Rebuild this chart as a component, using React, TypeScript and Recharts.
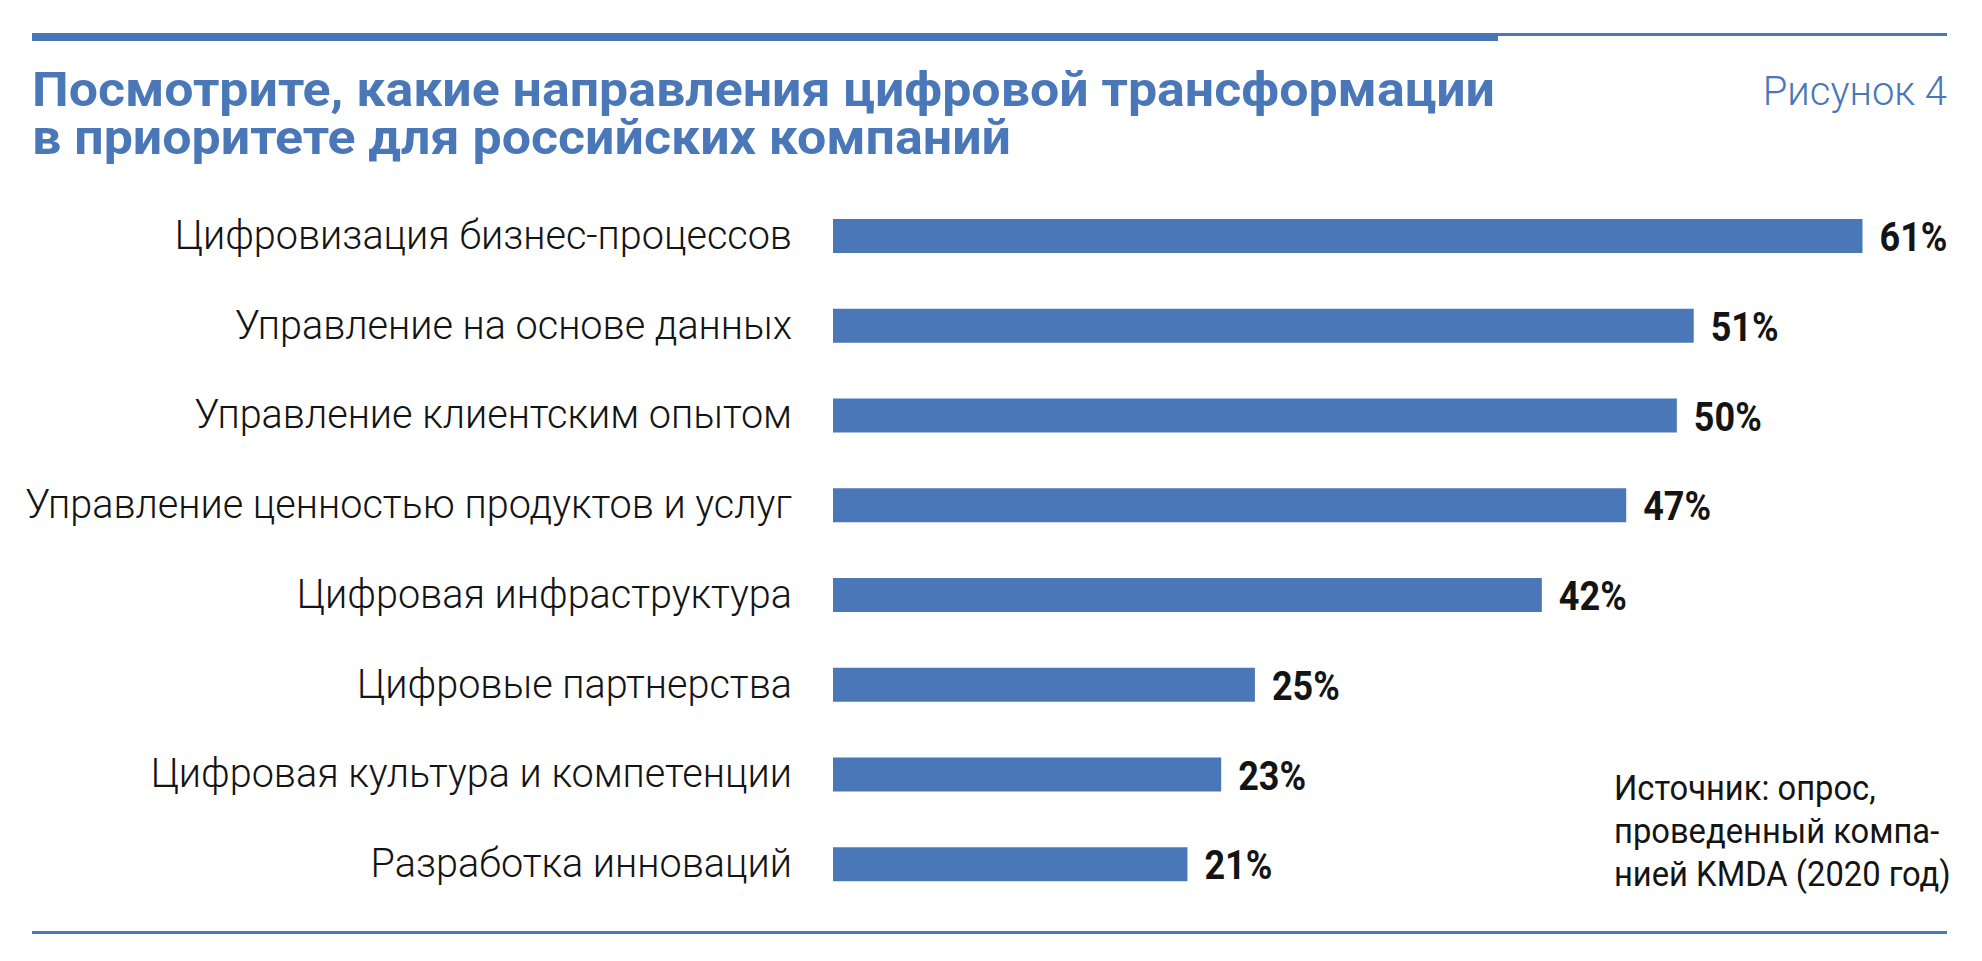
import { Bar, BarChart, LabelList, XAxis, YAxis } from "recharts";

const BLUE = "#4a77b8";
const INK = "#141414";

const categories = [
  "Цифровизация бизнес-процессов",
  "Управление на основе данных",
  "Управление клиентским опытом",
  "Управление ценностью продуктов и услуг",
  "Цифровая инфраструктура",
  "Цифровые партнерства",
  "Цифровая культура и компетенции",
  "Разработка инноваций",
];
const shares = [61, 51, 50, 47, 42, 25, 23, 21];

const titleLines = [
  "Посмотрите, какие направления цифровой трансформации",
  "в приоритете для российских компаний",
];
const figureLabel = "Рисунок 4";
const sourceLines = ["Источник: опрос,", "проведенный компа-", "нией KMDA (2020 год)"];

const data = categories.map((name, i) => ({ name, value: shares[i] }));

// labels in the original are a narrow light face, so squeeze Roboto Light a bit
function CategoryTick({ x, y, payload }: any) {
  return (
    <g transform={`translate(${x - 33},${y + 13}) scale(0.965,1)`}>
      <text x={0} y={0} textAnchor="end" fontFamily="Roboto" fontWeight={300} fontSize={41} fill={INK}>
        {payload.value}
      </text>
    </g>
  );
}

function ValueLabel({ x, y, width, height, value }: any) {
  return (
    <g transform={`translate(${x + width + 17},${y + height / 2 + 15}) scale(0.9,1)`}>
      <text x={0} y={0} fontFamily="Roboto" fontWeight={700} fontSize={40} fill={INK}>
        {value}%
      </text>
    </g>
  );
}

export default function App() {
  return (
    <div style={{ position: "absolute", left: 0, top: 0, width: 1982, height: 961, background: "#fff" }}>
      <BarChart
        width={1982}
        height={961}
        data={data}
        layout="vertical"
        margin={{ top: 191, right: 52, bottom: 52, left: 0 }}
        barSize={34}
      >
        <XAxis type="number" domain={[0, 65]} hide />
        <YAxis
          type="category"
          dataKey="name"
          width={833}
          axisLine={false}
          tickLine={false}
          tick={<CategoryTick />}
        />
        <Bar dataKey="value" fill={BLUE} isAnimationActive={false}>
          <LabelList dataKey="value" content={<ValueLabel />} />
        </Bar>
      </BarChart>

      <svg width={1982} height={961} style={{ position: "absolute", left: 0, top: 0, pointerEvents: "none" }}>
        <rect x={32} y={33} width={1466} height={8} fill={BLUE} />
        <rect x={1498} y={33} width={449} height={3} fill={BLUE} />
        <rect x={32} y={931} width={1915} height={3} fill={BLUE} />

        {titleLines.map((t, i) => (
          <text
            key={t}
            x={32}
            y={106 + i * 48}
            fontFamily="Roboto"
            fontWeight={700}
            fontSize={49}
            fill={BLUE}
            textLength={i === 0 ? 1463 : 979}
            lengthAdjust="spacingAndGlyphs"
          >
            {t}
          </text>
        ))}

        <text x={1947} y={105} textAnchor="end" fontFamily="Roboto" fontWeight={300} fontSize={40} fill={BLUE}>
          {figureLabel}
        </text>

        {sourceLines.map((t, i) => (
          <g key={t} transform={`translate(1614,${800 + i * 43}) scale(0.935,1)`}>
            <text x={0} y={0} fontFamily="Roboto" fontWeight={400} fontSize={35} fill={INK}>
              {t}
            </text>
          </g>
        ))}
      </svg>
    </div>
  );
}
